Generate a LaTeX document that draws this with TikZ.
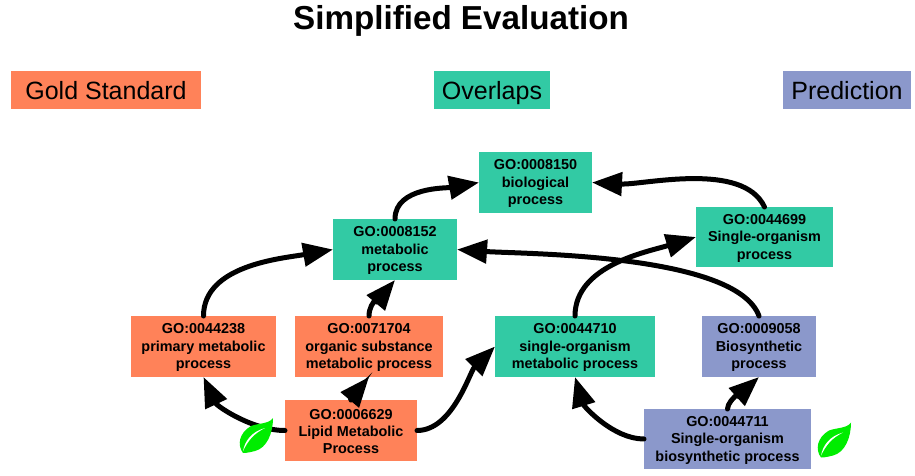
\documentclass[tikz,border=0pt]{standalone}
\usepackage{fontspec}
\setmainfont{Liberation Sans}
\usetikzlibrary{arrows.meta}
\definecolor{gold}{HTML}{FF8259}
\definecolor{over}{HTML}{32CAA4}
\definecolor{pred}{HTML}{8B98CB}
\newcommand\threelines[3]{\rule{0pt}{12.5pt}#1\\#2\\#3}
\tikzset{
  term/.style={inner sep=0pt,outer sep=0pt,minimum height=61pt,align=center,font=\fontsize{14.4}{17.3}\selectfont\bfseries},
  legendbox/.style={inner sep=0pt,outer sep=0pt,minimum height=38pt,text height=18pt,text depth=0pt,font=\fontsize{25}{30}\selectfont},
  rel/.style={line width=5pt,-{Triangle[length=30pt,width=23pt]},line cap=round},
  leafmark/.pic={
    \fill[green!93!black] (0,0) .. controls (-6,8) and (-4,20) .. (8,27) .. controls (16,30) and (26,29) .. (30,35) .. controls (30,20) and (24,5) .. (12,2) .. controls (8,1) and (4,0) .. (0,0) -- cycle;
    \fill[white] (0,2) .. controls (2,12) and (8,21) .. (22,25) .. controls (10,19) and (5,12) .. (0,2) -- cycle;
  }
}
\begin{document}
\begin{tikzpicture}[x=1pt,y=1pt]
\useasboundingbox (0,0) rectangle (915,475);
\node[font=\fontsize{33.2}{38}\selectfont\bfseries] (title) at (461,454) {Simplified Evaluation};
\node[legendbox,fill=gold,minimum width=190pt] (lg) at (106,385) {Gold Standard};
\node[legendbox,fill=over,minimum width=116pt] (lo) at (492,385) {Overlaps};
\node[legendbox,fill=pred,minimum width=128pt] (lp) at (847,385) {Prediction};

\node[term,fill=over,minimum width=113pt] (a) at (535.5,292.5) {\threelines{GO:0008150}{biological}{process}};
\node[term,fill=over,minimum width=124pt] (b) at (395,225.5) {\threelines{GO:0008152}{metabolic}{process}};
\node[term,fill=over,minimum width=137pt,minimum height=60pt] (c) at (764.5,238) {\threelines{GO:0044699}{Single-organism}{process}};
\node[term,fill=gold,minimum width=145pt] (d) at (203.5,128.5) {\threelines{GO:0044238}{primary metabolic}{process}};
\node[term,fill=gold,minimum width=148pt] (e) at (369,128.5) {\threelines{GO:0071704}{organic substance}{metabolic process}};
\node[term,fill=over,minimum width=160pt] (f) at (575,128.5) {\threelines{GO:0044710}{single-organism}{metabolic process}};
\node[term,fill=pred,minimum width=114pt] (g) at (759,128.5) {\threelines{GO:0009058}{Biosynthetic}{process}};
\node[term,fill=gold,minimum width=132pt] (h) at (351,44.5) {\threelines{GO:0006629}{Lipid Metabolic}{Process}};
\node[term,fill=pred,minimum width=167pt,minimum height=60pt] (i) at (727.5,36) {\threelines{GO:0044711}{Single-organism}{biosynthetic process}};

\draw[rel] (b.north) to[out=90,in=190,looseness=0.9] (a.west);
\draw[rel] (c.north) to[out=115,in=-3,looseness=0.75] (a.east);
\draw[rel] (d.north) to[out=90,in=190,looseness=0.9] (b.west);
\draw[rel] (e.north) to[out=90,in=230,looseness=0.9] (b.south);
\draw[rel] (h.north) to[out=70,in=230,looseness=0.6] (e.south);
\draw[rel] (h.west) to[out=180,in=295,looseness=0.85] (d.south);
\draw[rel] (h.east) to[out=0,in=225,looseness=0.8] (f.west);
\draw[rel] (f.north) to[out=90,in=197,looseness=0.9] (c.west);
\draw[rel] (g.north) to[out=110,in=-4,looseness=0.55] (b.east);
\draw[rel] (i.north) to[out=90,in=222,looseness=0.6] (g.south);
\draw[rel] (i.west) to[out=180,in=287,looseness=0.85] (f.south);

\pic at (243,22) {leafmark};
\pic at (821,17.5) {leafmark};
\end{tikzpicture}
\end{document}
